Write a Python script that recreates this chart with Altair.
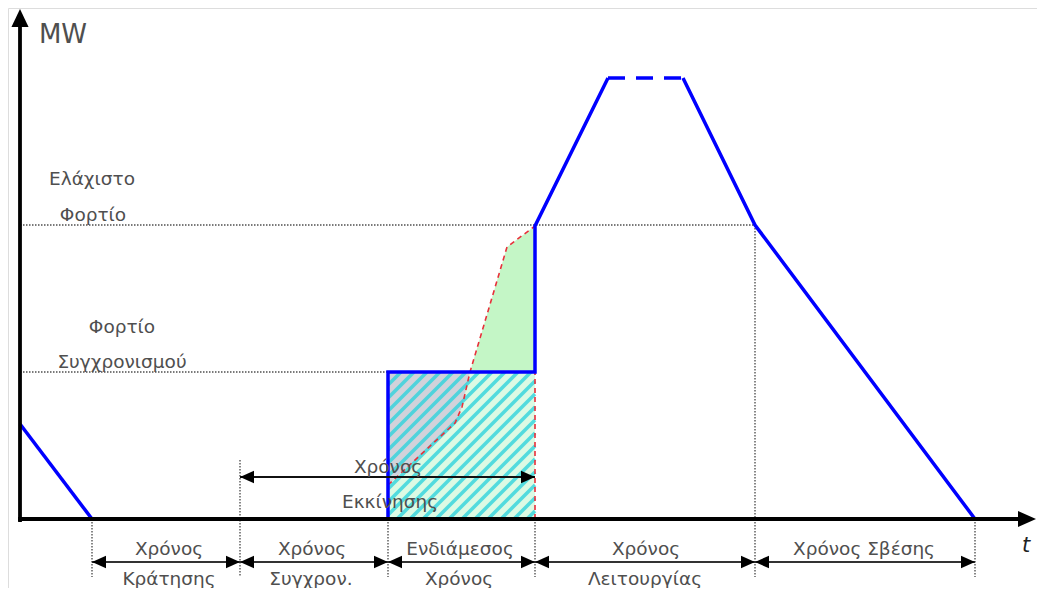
import altair as alt
import pandas as pd

# ---- schematic values (t: time units, mw: MW units) ----
T_MARKS = [72, 220, 368, 515, 735, 955]          # phase boundaries
SYNC_MW = 147                                    # Φορτίο Συγχρονισμού
MIN_MW = 294                                     # Ελάχιστο Φορτίο
PEAK_MW = 441

prev_t = [0, 72]
prev_mw = [95, 0]
main_t = [368, 368, 515, 515, 588]
main_mw = [0, 147, 147, 293, 441]
plateau_t = [588, 663]
plateau_mw = [441, 441]
down_t = [663, 735, 955]
down_mw = [441, 294, 0]

red_t = [368, 435, 442, 450, 487, 515]
red_mw = [34, 96, 112, 147, 272, 293]

bottom_arrows = [(72, 220), (220, 368), (368, 515), (515, 735), (735, 955)]
start_arrow = (220, 515)

# label, t, mw (baseline)
labels = [
    ("Ελάχιστο", 72, 334), ("Φορτίο", 73, 298),
    ("Φορτίο", 102, 186), ("Συγχρονισμού", 102, 151),
    ("Χρόνος", 368, 46), ("Εκκίνησης", 370, 11),
    ("Χρόνος", 149, -36), ("Κράτησης", 149, -66),
    ("Χρόνος", 292, -36), ("Συγχρον.", 291, -66),
    ("Ενδιάμεσος", 440, -36), ("Χρόνος", 439, -66),
    ("Χρόνος", 626, -36), ("Λειτουργίας", 625, -66),
    ("Χρόνος Σβέσης", 844, -36),
]

X_DOM = [-12, 1017]
Y_DOM = [-69, 511]
W, H = 1029, 580

xs = alt.Scale(domain=X_DOM, nice=False, zero=False)
ys = alt.Scale(domain=Y_DOM, nice=False, zero=False)


def X(f="t"):
    return alt.X(f"{f}:Q", scale=xs, axis=None)


def Y(f="mw"):
    return alt.Y(f"{f}:Q", scale=ys, axis=None)


def seg_df(segs):
    rows = []
    for i, pts in enumerate(segs):
        for j, (t, m) in enumerate(pts):
            rows.append({"seg": i, "o": j, "t": t, "mw": m})
    return pd.DataFrame(rows)


def lines(segs, **kw):
    return alt.Chart(seg_df(segs)).mark_line(**kw).encode(
        x=X(), y=Y(), detail="seg:N", order="o:Q")


layers = []

# pale green rectangle
rect_df = pd.DataFrame([{"t": 368, "t2": 515, "mw": 0, "mw2": SYNC_MW}])
layers.append(alt.Chart(rect_df).mark_rect(color="#dcfae4").encode(
    x=X(), x2="t2:Q", y=Y(), y2="mw2:Q"))

# gray and green areas between red curve and sync level
curve = pd.DataFrame({"t": red_t, "mw": red_mw})
curve["top"] = SYNC_MW
gray = curve[curve.t <= 450]
green = curve[curve.t >= 450]
layers.append(alt.Chart(gray).mark_area(color="#d2d2da", opacity=1).encode(
    x=X(), y=Y(), y2="top:Q"))
layers.append(alt.Chart(green).mark_area(color="#c4f6c6", opacity=1).encode(
    x=X(), y=Y(), y2="top:Q"))

# hatch stripes over the rectangle
stripes = []
c = 368 - SYNC_MW
while c < 515:
    a = max(368, c)
    b = min(515, c + SYNC_MW)
    if b > a:
        stripes.append([(a, a - c), (b, b - c)])
    c += 13
layers.append(lines(stripes, color="#2fd3dc", strokeWidth=3.5, opacity=0.8,
                    strokeCap="butt"))

# red dashed curve
layers.append(lines([list(zip(red_t, red_mw)), [(515, 0), (515, SYNC_MW)]],
                    color="#e8303a", strokeDash=[5, 4], strokeWidth=1.6))

# dotted guides
guides = [
    [(0, MIN_MW), (735, MIN_MW)],
    [(0, SYNC_MW), (368, SYNC_MW)],
    [(72, 0), (72, -58)],
    [(220, 59), (220, -58)],
    [(368, 0), (368, -58)],
    [(515, 0), (515, -58)],
    [(735, MIN_MW), (735, -58)],
    [(955, 0), (955, -58)],
]
layers.append(lines(guides, color="#7a7a7a", strokeDash=[1.5, 1.5],
                    strokeWidth=1.8))

# blue profile
layers.append(lines([list(zip(prev_t, prev_mw)), list(zip(main_t, main_mw)),
                     list(zip(down_t, down_mw))],
                    color="#0000ff", strokeWidth=3.5, strokeJoin="miter"))
layers.append(lines([list(zip(plateau_t, plateau_mw))], color="#0000ff",
                    strokeWidth=3.5, strokeDash=[17, 11]))

# axes
layers.append(lines([[(0, -3), (0, 495)], [(-2, 0), (1000, 0)]],
                    color="#000000", strokeWidth=3.8))

RIGHT = "M0,0 L-2,-0.9 L-2,0.9 Z"
LEFT = "M0,0 L2,-0.9 L2,0.9 Z"
UP = "M0,0 L-0.95,2 L0.95,2 Z"


def heads(pts, shape, size):
    df = pd.DataFrame([{"t": t, "mw": m} for t, m in pts])
    return alt.Chart(df).mark_point(shape=shape, size=size, filled=True,
                                    color="#000000", opacity=1).encode(
        x=X(), y=Y())


layers.append(heads([(0, 510)], UP, 324))
layers.append(heads([(1016, 0)], RIGHT, 324))

# double arrows
arr_segs = [[(a, -43), (b, -43)] for a, b in bottom_arrows]
layers.append(lines(arr_segs, color="#333333", strokeWidth=2.2))
layers.append(lines([[(start_arrow[0], 42), (start_arrow[1], 42)]],
                    color="#111111", strokeWidth=2.2))
lefts = [(a, -43) for a, b in bottom_arrows] + [(start_arrow[0], 42)]
rights = [(b, -43) for a, b in bottom_arrows] + [(start_arrow[1], 42)]
layers.append(heads(lefts, LEFT, 196))
layers.append(heads(rights, RIGHT, 196))

# texts
lab_df = pd.DataFrame(labels, columns=["label", "t", "mw"])
layers.append(alt.Chart(lab_df).mark_text(
    font="DejaVu Sans", fontSize=18.5, color="#4f4f4f", baseline="alphabetic",
    align="center").encode(x=X(), y=Y(), text="label:N"))
layers.append(alt.Chart(pd.DataFrame([{"label": "MW", "t": 43, "mw": 476}]))
              .mark_text(font="DejaVu Sans", fontSize=26, color="#4f4f4f",
                         baseline="alphabetic", align="center")
              .encode(x=X(), y=Y(), text="label:N"))
layers.append(alt.Chart(pd.DataFrame([{"label": "t", "t": 1006, "mw": -33}]))
              .mark_text(font="DejaVu Sans", fontSize=21, fontStyle="italic",
                         color="#222222", baseline="alphabetic", align="center")
              .encode(x=X(), y=Y(), text="label:N"))

chart = alt.layer(*layers).properties(
    width=W, height=H, padding=0, autosize=alt.AutoSizeParams(type="none")
).configure_view(stroke=None).configure(background="white")

chart.save("out.html", embed_options={"renderer": "svg", "actions": False})
